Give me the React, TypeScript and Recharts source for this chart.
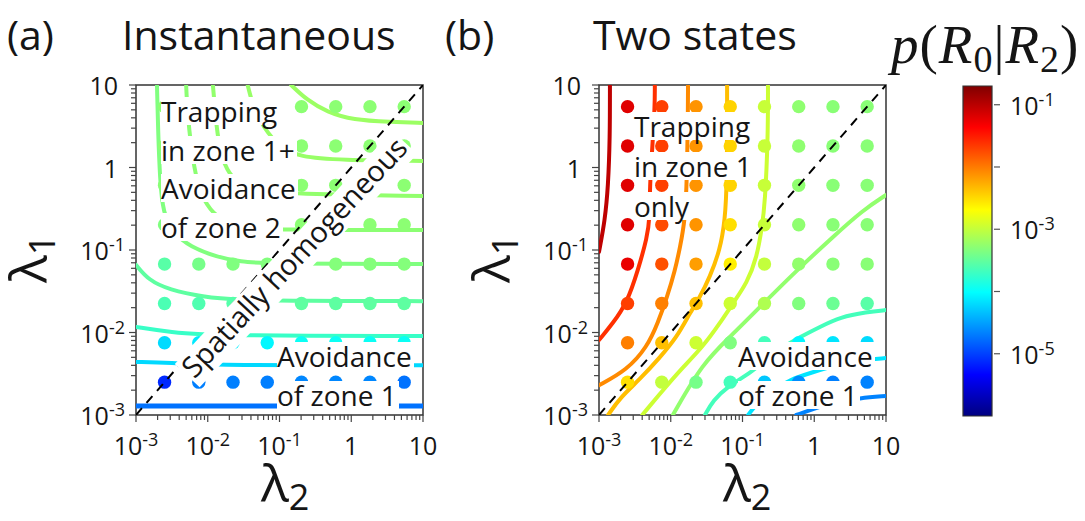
import React from "react";
import { ScatterChart, Scatter, XAxis, YAxis, ReferenceArea } from "recharts";

const FONT = "'Open Sans', 'Noto Sans', sans-serif";
const INK = "#151515";

// λ values at which p(R0|R2) was sampled (same grid for λ1 and λ2)
const lambdaSamples = [0.0025, 0.0075, 0.0225, 0.0675, 0.2025, 0.6075, 1.8225, 5.4675];

// p(R0|R2) at each sample: rows λ1 from largest to smallest, columns λ2 ascending
const pInstantaneous = [
  [5.2e-4, 5.2e-4, 5.2e-4, 5.2e-4, 5.2e-4, 5.2e-4, 5.2e-4, 5.2e-4],
  [5.2e-4, 5.2e-4, 5.2e-4, 5.2e-4, 5.2e-4, 5.2e-4, 5.2e-4, 5.2e-4],
  [5.0e-4, 5.2e-4, 5.2e-4, 5.2e-4, 5.2e-4, 5.2e-4, 5.2e-4, 5.2e-4],
  [4.5e-4, 5.0e-4, 5.2e-4, 5.2e-4, 5.2e-4, 5.2e-4, 5.2e-4, 5.2e-4],
  [2.8e-4, 4.0e-4, 4.5e-4, 4.6e-4, 4.7e-4, 4.7e-4, 4.7e-4, 4.7e-4],
  [2.4e-4, 2.5e-4, 2.7e-4, 3.0e-4, 3.0e-4, 3.0e-4, 3.0e-4, 3.0e-4],
  [6.3e-5, 7.6e-5, 7.9e-5, 8.9e-5, 1.1e-4, 1.1e-4, 1.1e-4, 1.1e-4],
  [7.5e-6, 2.1e-5, 2.1e-5, 2.1e-5, 2.3e-5, 2.3e-5, 2.3e-5, 1.8e-5],
];

const pTwoStates = [
  [0.063, 0.0204, 0.0074, 0.0035, 0.00105, 5.4e-4, 5.0e-4, 5.0e-4],
  [0.063, 0.0204, 0.0074, 0.0035, 0.00105, 5.4e-4, 5.0e-4, 5.0e-4],
  [0.063, 0.0204, 0.0074, 0.0035, 0.00105, 5.4e-4, 5.0e-4, 5.0e-4],
  [0.063, 0.0178, 0.0074, 0.003, 0.00105, 5.4e-4, 5.0e-4, 5.0e-4],
  [0.056, 0.0166, 0.0066, 0.0025, 0.001, 5.6e-4, 5.0e-4, 5.0e-4],
  [0.0204, 0.0095, 0.0044, 0.00112, 7.9e-4, 4.5e-4, 3.5e-4, 2.8e-4],
  [0.0095, 0.0044, 0.00112, 4.5e-4, 2.2e-4, 8.9e-5, 7.1e-5, 6.3e-5],
  [0.003, 0.001, 4.0e-4, 2.2e-4, 5.0e-5, 2.5e-5, 2.1e-5, 2.2e-5],
];

// Iso-probability curves, points as [λ2, λ1]; each level sets the curve colour
const instLevels = [6.3e-4, 6.0e-4, 5.6e-4, 5.2e-4, 4.5e-4, 3.0e-4, 1.9e-4, 6.2e-5, 1.8e-5];
const instCurve1 = [[0.145, 10], [0.24, 6.6], [0.46, 4.7], [1.06, 3.76], [3.5, 3.56], [10, 3.46]];
const instCurve2 = [[0.036, 10], [0.043, 5.4], [0.059, 3.1], [0.1, 1.77], [0.19, 1.34], [0.7, 1.23], [10, 1.2]];
const instCurve3 = [[0.0118, 10], [0.0126, 5.0], [0.0139, 2.15], [0.0168, 1.07], [0.024, 0.67], [0.046, 0.52], [0.14, 0.48], [10, 0.45]];
const instCurve4 = [[0.005, 10], [0.0051, 6.6], [0.0055, 2.85], [0.0062, 1.23], [0.0073, 0.61], [0.0095, 0.35], [0.0148, 0.23], [0.033, 0.185], [0.1, 0.175], [10, 0.175]];
const instCurve5 = [[0.00196, 10], [0.00203, 2.85], [0.00216, 0.7], [0.00238, 0.28], [0.0033, 0.16], [0.0057, 0.109], [0.0135, 0.082], [0.028, 0.072], [0.074, 0.068], [10, 0.0676]];
const instCurve6 = [[0.001, 0.066], [0.0015, 0.043], [0.0029, 0.033], [0.0086, 0.027], [0.025, 0.0248], [0.19, 0.0241], [10, 0.024]];
const instCurve7 = [[0.001, 0.0117], [0.0029, 0.0101], [0.0143, 0.0091], [10, 0.0091]];
const instCurve8 = [[0.001, 0.0044], [0.0029, 0.0043], [0.0143, 0.004], [10, 0.004]];
const instCurve9 = [[0.001, 0.00129], [10, 0.00129]];
const instCurves = [instCurve1, instCurve2, instCurve3, instCurve4, instCurve5, instCurve6, instCurve7, instCurve8, instCurve9];

const twoLevels = [0.095, 0.0245, 0.0083, 0.0045, 0.00112, 5.6e-4, 2.2e-4, 7.1e-5, 2.2e-5];
const twoCurve1 = [[0.00142, 10], [0.00142, 2.34], [0.00134, 0.58], [0.00121, 0.23], [0.001, 0.095]];
const twoCurve2 = [[0.006, 10], [0.006, 5.4], [0.0055, 1.63], [0.0051, 0.58], [0.0051, 0.244], [0.0047, 0.144], [0.0035, 0.057], [0.00245, 0.0228], [0.00157, 0.013], [0.001, 0.0081]];
const twoCurve3 = [[0.0174, 10], [0.0174, 5.4], [0.0168, 0.7], [0.0158, 0.23], [0.0135, 0.109], [0.0115, 0.057], [0.0089, 0.027], [0.0066, 0.013], [0.0047, 0.0067], [0.00245, 0.0035], [0.001, 0.0023]];
const twoCurve4 = [[0.061, 10], [0.061, 0.65], [0.057, 0.23], [0.0486, 0.1], [0.035, 0.047], [0.0256, 0.027], [0.0185, 0.0172], [0.0122, 0.0088], [0.0071, 0.005], [0.0037, 0.0027], [0.002, 0.00165], [0.00134, 0.001]];
const twoCurve5 = [[0.2265, 10], [0.2265, 2.34], [0.206, 0.37], [0.187, 0.19], [0.159, 0.082], [0.116, 0.04], [0.074, 0.0228], [0.0486, 0.013], [0.028, 0.0067], [0.0135, 0.0035], [0.0078, 0.002], [0.004, 0.001]];
const twoCurve6 = [[10, 0.464], [4.78, 0.305], [1.82, 0.144], [0.575, 0.057], [0.219, 0.0248], [0.067, 0.0088], [0.028, 0.0043], [0.0107, 0.001]];
const twoCurve7 = [[10, 0.0187], [5.4, 0.0177], [2.3, 0.0154], [1.2, 0.0117], [0.63, 0.0088], [0.37, 0.0067], [0.21, 0.0046], [0.127, 0.0032], [0.061, 0.0022], [0.039, 0.0015], [0.03, 0.001]];
const twoCurve8 = [[10, 0.0049], [4.3, 0.0046], [1.95, 0.004], [0.96, 0.0033], [0.46, 0.0027], [0.24, 0.0019], [0.15, 0.0013], [0.12, 0.001]];
const twoCurve9 = [[10, 0.0017], [4.3, 0.0016], [1.95, 0.00144], [0.96, 0.00118], [0.56, 0.001]];
const twoCurves = [twoCurve1, twoCurve2, twoCurve3, twoCurve4, twoCurve5, twoCurve6, twoCurve7, twoCurve8, twoCurve9];

// λ1 = λ2 reference
const diagonal = [{ x: 0.001, y: 0.001 }, { x: 10, y: 10 }];

const axisDomain = [0.001, 10];
const colorDomain = [1e-6, 0.2];
const colorTicks = [1e-5, 1e-4, 1e-3, 1e-2, 1e-1];

const axisTicks: number[] = [];
for (let e = -3; e < 1; e++) {
  for (let m = 1; m < 10; m++) axisTicks.push(Number((m * Math.pow(10, e)).toPrecision(2)));
}
axisTicks.push(10);

// MATLAB-style jet colour map
function jet(t: number): string {
  const c = (v: number) => Math.round(255 * Math.max(0, Math.min(1, v)));
  const r = c(Math.min(4 * t - 1.5, -4 * t + 4.5));
  const g = c(Math.min(4 * t - 0.5, -4 * t + 3.5));
  const b = c(Math.min(4 * t + 0.5, -4 * t + 2.5));
  return `rgb(${r},${g},${b})`;
}
const lo = Math.log10(colorDomain[0]);
const hi = Math.log10(colorDomain[1]);
const colorOf = (p: number) => jet((Math.log10(p) - lo) / (hi - lo));

function decade(v: number) {
  const l = Math.log10(v);
  const e = Math.round(l);
  return { e, major: Math.abs(l - e) < 1e-6 };
}

function PowerText({ x, y, e, anchor, size }: { x: number; y: number; e: number; anchor: string; size: number }) {
  const common = { x, y, textAnchor: anchor as any, fontFamily: FONT, fontSize: size, fill: INK };
  if (e === 0) return <text {...common}>1</text>;
  if (e === 1) return <text {...common}>10</text>;
  return (
    <text {...common}>
      <tspan>10</tspan>
      <tspan dy={-9} fontSize={size * 0.72}>{`${e}`}</tspan>
    </text>
  );
}

function XTick(props: any) {
  const { x, y, payload } = props;
  const { e, major } = decade(payload.value);
  return (
    <g>
      <line x1={x} x2={x} y1={y} y2={y + (major ? 7 : 5)} stroke="#444" strokeWidth={1.2} />
      {major && <PowerText x={x} y={y + 40} e={e} anchor="middle" size={25} />}
    </g>
  );
}

function YTick(props: any) {
  const { x, y, payload } = props;
  const { e, major } = decade(payload.value);
  const plain = e === 0 || e === 1;
  return (
    <g>
      <line x1={x - (major ? 7 : 5)} x2={x} y1={y} y2={y} stroke="#444" strokeWidth={1.2} />
      {major && <PowerText x={x - (plain ? 18 : 11)} y={y + 10} e={e} anchor="end" size={25} />}
    </g>
  );
}

function BarTick(props: any) {
  const { x, y, payload } = props;
  const { e } = decade(payload.value);
  return (
    <g>
      <line x1={x + 2} x2={x + 8} y1={y} y2={y} stroke="#555" strokeWidth={1.2} />
      {Math.abs(e) % 2 === 1 && <PowerText x={x + 18} y={y + 10} e={e} anchor="start" size={25} />}
    </g>
  );
}

const noMarker = () => <g />;
const renderDot = (props: any) => (
  <circle cx={props.cx} cy={props.cy} r={6.7} fill={colorOf(props.payload.p)} />
);

function Panel({ left, grid, curves, levels }: { left: number; grid: number[][]; curves: number[][][]; levels: number[] }) {
  const dots: { x: number; y: number; p: number }[] = [];
  grid.forEach((row, i) => {
    row.forEach((p, j) => {
      dots.push({ x: lambdaSamples[j], y: lambdaSamples[lambdaSamples.length - 1 - i], p });
    });
  });
  return (
    <div style={{ position: "absolute", left, top: 0 }}>
      <ScatterChart width={440} height={521} margin={{ top: 85, right: 17, bottom: 46, left: 0 }}>
        <XAxis
          type="number"
          dataKey="x"
          scale="log"
          domain={axisDomain}
          allowDataOverflow
          ticks={axisTicks}
          interval={0}
          tickSize={0}
          tickMargin={0}
          tickLine={false}
          axisLine={false}
          height={60}
          tick={(p: any) => <XTick {...p} />}
        />
        <YAxis
          type="number"
          dataKey="y"
          scale="log"
          domain={axisDomain}
          allowDataOverflow
          ticks={axisTicks}
          interval={0}
          tickSize={0}
          tickMargin={0}
          tickLine={false}
          axisLine={false}
          width={136}
          tick={(p: any) => <YTick {...p} />}
        />
        {curves.map((c, i) => (
          <Scatter
            key={`c${i}`}
            data={c.map(([x, y]) => ({ x, y }))}
            line={{ stroke: colorOf(levels[i]), strokeWidth: i === curves.length - 1 && left === 0 ? 5 : 4, strokeLinecap: "round", strokeLinejoin: "round" }}
            lineJointType="basis"
            shape={noMarker}
            isAnimationActive={false}
          />
        ))}
        <Scatter data={dots} shape={renderDot} isAnimationActive={false} />
        <Scatter
          data={diagonal}
          line={{ stroke: "#000", strokeWidth: 2, strokeDasharray: "9 7" }}
          shape={noMarker}
          isAnimationActive={false}
        />
        <ReferenceArea x1={0.001} x2={10} y1={0.001} y2={10} fill="none" stroke="#333" strokeWidth={1.5} ifOverflow="visible" />
      </ScatterChart>
    </div>
  );
}

const jetStops = [0, 0.125, 0.375, 0.625, 0.875, 1];

function ColorBar() {
  return (
    <div style={{ position: "absolute", left: 900, top: 0 }}>
      <ScatterChart width={185} height={521} margin={{ top: 86, right: 0, bottom: 105, left: 63 }}>
        <defs>
          <linearGradient id="jetGradient" x1="0" y1="1" x2="0" y2="0">
            {jetStops.map((t) => (
              <stop key={t} offset={`${t * 100}%`} stopColor={jet(t)} />
            ))}
          </linearGradient>
        </defs>
        <XAxis type="number" dataKey="x" domain={[0, 1]} hide />
        <YAxis
          type="number"
          dataKey="y"
          orientation="right"
          scale="log"
          domain={colorDomain}
          allowDataOverflow
          ticks={colorTicks}
          interval={0}
          tickSize={0}
          tickMargin={0}
          tickLine={false}
          axisLine={false}
          width={93}
          tick={(p: any) => <BarTick {...p} />}
        />
        <Scatter data={[{ x: 0, y: colorDomain[0] }, { x: 1, y: colorDomain[1] }]} shape={noMarker} isAnimationActive={false} />
        <ReferenceArea x1={0} x2={1} y1={colorDomain[0]} y2={colorDomain[1]} fill="url(#jetGradient)" fillOpacity={1} stroke="#333" strokeWidth={1.2} ifOverflow="visible" />
      </ScatterChart>
    </div>
  );
}

const boxLine: React.CSSProperties = {
  position: "absolute",
  height: 28,
  lineHeight: "28px",
  fontSize: 28,
  fontFamily: FONT,
  color: INK,
  background: "#fff",
  whiteSpace: "nowrap",
  paddingRight: 2,
};

function BoxedLines({ left, tops, lines }: { left: number; tops: number[]; lines: string[] }) {
  return (
    <>
      {lines.map((s, i) => (
        <div key={i} style={{ ...boxLine, left, top: tops[i] }}>
          {s}
        </div>
      ))}
    </>
  );
}

export default function App() {
  return (
    <div style={{ position: "absolute", left: 0, top: 0, width: 1085, height: 521, background: "#fff", overflow: "hidden" }}>
      <Panel left={0} grid={pInstantaneous} curves={instCurves} levels={instLevels} />
      <Panel left={463} grid={pTwoStates} curves={twoCurves} levels={twoLevels} />
      <ColorBar />

      <svg width={1085} height={521} style={{ position: "absolute", left: 0, top: 0, pointerEvents: "none" }}>
        <g fontFamily={FONT} fill={INK} fontSize={41}>
          <text x={7} y={50}>(a)</text>
          <text x={122} y={50}>Instantaneous</text>
          <text x={445} y={50}>(b)</text>
          <text x={593} y={50}>Two states</text>
        </g>
        <g fontFamily={FONT} fill={INK} fontSize={52}>
          <text x={261} y={502}>
            λ<tspan dy={8} fontSize={36}>2</tspan>
          </text>
          <text x={723} y={502}>
            λ<tspan dy={8} fontSize={36}>2</tspan>
          </text>
          <text transform="translate(47,283) rotate(-90)">
            λ<tspan dy={8} fontSize={36}>1</tspan>
          </text>
          <text transform="translate(510,283) rotate(-90)">
            λ<tspan dy={8} fontSize={36}>1</tspan>
          </text>
        </g>
        <text x={891} y={63} fontFamily="'Liberation Serif', 'DejaVu Serif', serif" fontSize={55} fill={INK} letterSpacing={1}>
          <tspan fontStyle="italic">p</tspan>
          <tspan>(</tspan>
          <tspan fontStyle="italic">R</tspan>
          <tspan fontSize={38} dy={9}>0</tspan>
          <tspan dy={-9}>|</tspan>
          <tspan fontStyle="italic">R</tspan>
          <tspan fontSize={38} dy={9}>2</tspan>
          <tspan dy={-9}>)</tspan>
        </text>
      </svg>

      <BoxedLines left={161} tops={[97, 136, 174, 213]} lines={["Trapping", "in zone 1+", "Avoidance", "of zone 2"]} />
      <BoxedLines left={277} tops={[342, 381]} lines={["Avoidance", "of zone 1"]} />
      <BoxedLines left={634} tops={[112, 152, 192]} lines={["Trapping", "in zone 1", "only"]} />
      <BoxedLines left={738} tops={[342, 381]} lines={["Avoidance", "of zone 1"]} />

      <div
        style={{
          ...boxLine,
          fontSize: 29,
          paddingBottom: 6,
          paddingLeft: 2,
          left: 296,
          top: 259,
          transform: "translate(-50%, -50%) rotate(-47deg)",
        }}
      >
        Spatially homogeneous
      </div>
    </div>
  );
}
